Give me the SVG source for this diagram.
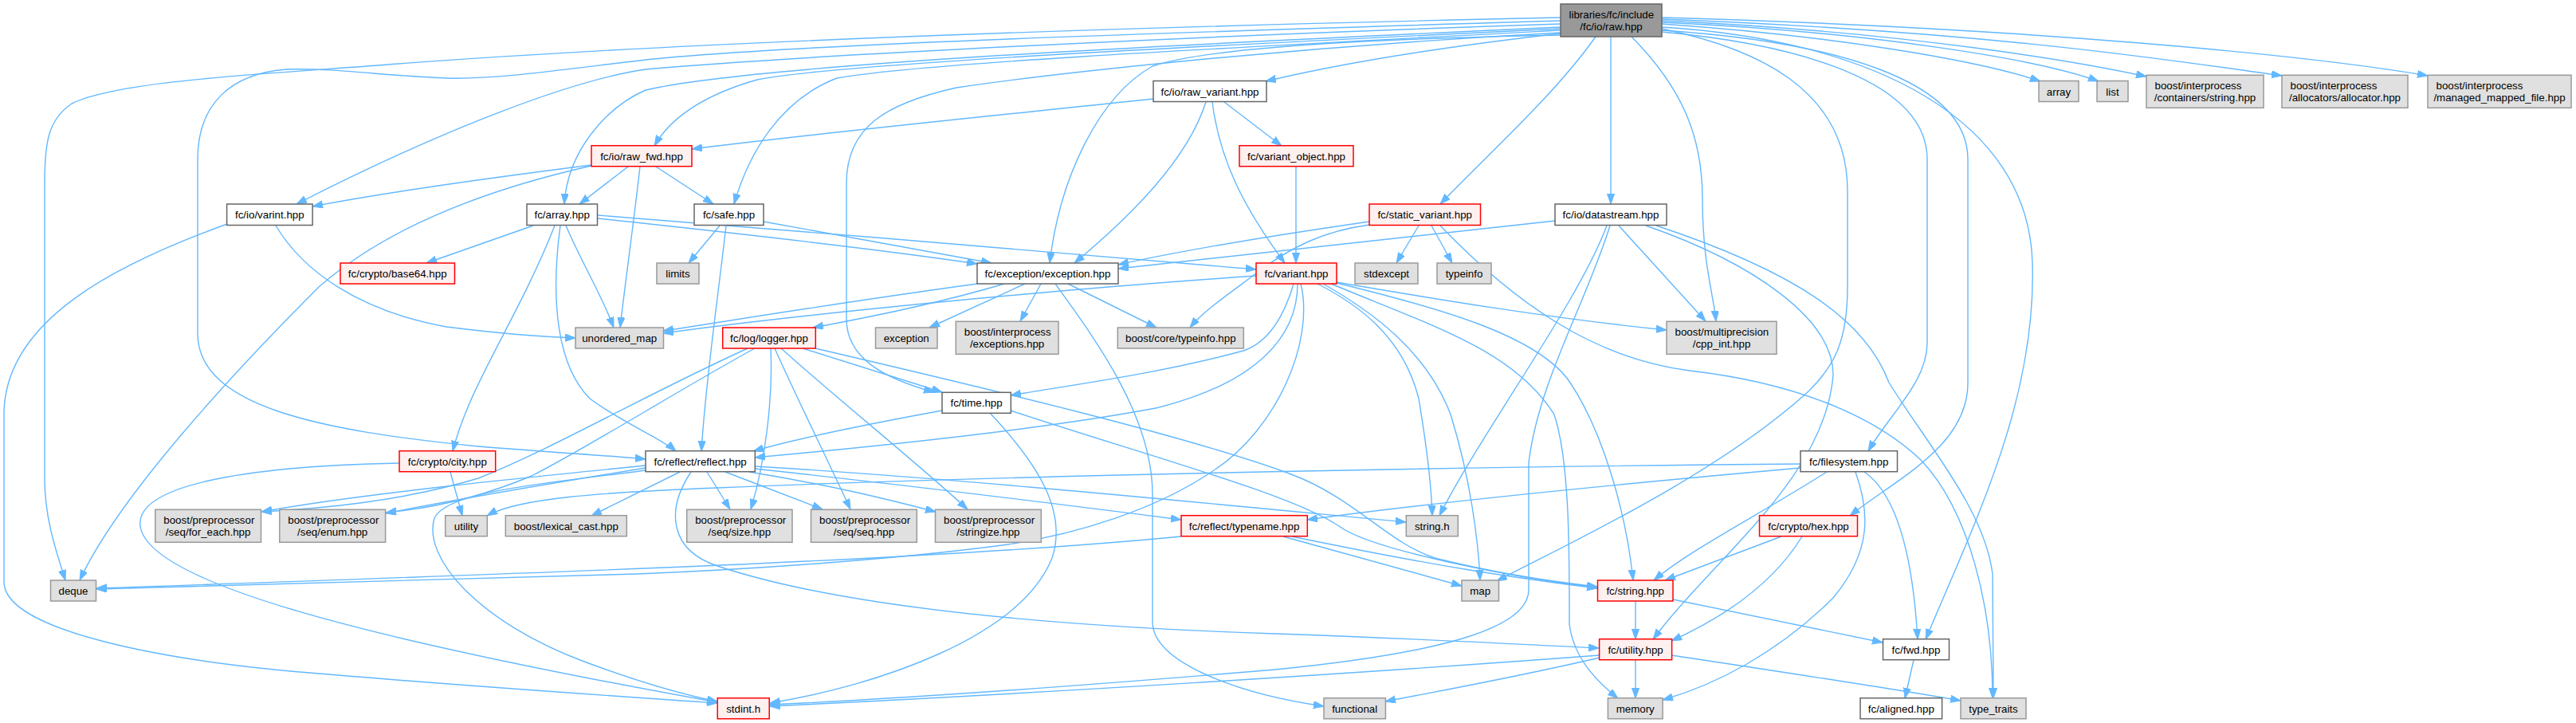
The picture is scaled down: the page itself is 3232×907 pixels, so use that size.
<svg xmlns="http://www.w3.org/2000/svg" width="3232" height="907" viewBox="0 0 3232 907">
<style>
.e{fill:none;stroke:#63b8ff;stroke-width:1.4}
.n rect{stroke-width:1.5}
.rt rect{fill:#999999;stroke:#666666}
.w rect{fill:#ffffff;stroke:#666666}
.r rect{fill:#fff0f0;stroke:#ff0000}
.x rect{fill:#e0e0e0;stroke:#999999}
text{font-family:"Liberation Sans",Arial,Helvetica,sans-serif;font-size:13.33px;fill:#000000}
.m{text-anchor:middle}
.s{text-anchor:start}
</style>
<defs>
<marker id="a" markerUnits="userSpaceOnUse" markerWidth="14" markerHeight="10" refX="13" refY="4.6" orient="auto">
<path d="M0,0 L13,4.6 L0,9.2 z" fill="#63b8ff" stroke="#63b8ff" stroke-width="1"/>
</marker>
</defs>
<rect width="3232" height="907" fill="#ffffff"/>
<g id="connectors" marker-end="url(#a)">
<path class="e" marker-end="url(#a)" d="M1958,22 C1500,32 900,50 500,80 C350,92 150,100 90,130 C60,150 56,180 56,230 L56,600 C56,650 70,690 82,728"/>
<path class="e" marker-end="url(#a)" d="M1958,26 C1500,40 1000,55 810,75 C700,88 620,100 560,98 C480,95 420,85 360,87 C290,92 248,130 248,200 L248,420 C250,510 400,540 600,560 C700,568 770,572 810,576"/>
<path class="e" marker-end="url(#a)" d="M1958,30 C1500,45 1000,70 810,87 C720,100 560,160 372,256"/>
<path class="e" marker-end="url(#a)" d="M1958,34 C1500,55 950,80 810,113 C760,135 712,190 708,256"/>
<path class="e" marker-end="url(#a)" d="M1958,36 C1500,58 1050,80 950,100 C880,120 840,150 821,183"/>
<path class="e" marker-end="url(#a)" d="M1958,38 C1500,62 1150,80 1050,98 C980,125 940,190 921,256"/>
<path class="e" marker-end="url(#a)" d="M1958,41 C1600,60 1300,95 1200,110 C1110,130 1062,160 1062,230 L1062,400 C1062,450 1110,475 1172,492"/>
<path class="e" marker-end="url(#a)" d="M1958,44 C1750,48 1520,58 1446,83 C1380,120 1330,220 1317,330"/>
<path class="e" marker-end="url(#a)" d="M1958,42 C1800,60 1680,80 1588,102"/>
<path class="e" marker-end="url(#a)" d="M2002,46 C1950,120 1860,200 1807,256"/>
<path class="e" marker-end="url(#a)" d="M2021,46 L2021,256"/>
<path class="e" marker-end="url(#a)" d="M2047,46 C2110,110 2136,170 2136,250 C2136,330 2150,370 2153,403"/>
<path class="e" marker-end="url(#a)" d="M2085,36 C2200,60 2318,110 2318,240 L2318,360 C2318,430 2300,460 2270,490 C2150,600 1950,690 1878,729"/>
<path class="e" marker-end="url(#a)" d="M2085,40 C2250,55 2418,100 2418,200 L2418,430 C2418,480 2370,520 2344,566"/>
<path class="e" marker-end="url(#a)" d="M2085,38 C2300,52 2469,100 2469,200 L2469,480 C2469,560 2380,600 2321,647"/>
<path class="e" marker-end="url(#a)" d="M2085,34 C2350,50 2545,150 2550,330 C2555,500 2480,650 2416,802"/>
<path class="e" marker-end="url(#a)" d="M2085,30 C2300,45 2480,75 2560,102"/>
<path class="e" marker-end="url(#a)" d="M2085,28 C2350,40 2560,75 2633,102"/>
<path class="e" marker-end="url(#a)" d="M2085,26 C2400,40 2620,80 2693,96"/>
<path class="e" marker-end="url(#a)" d="M2085,24 C2500,40 2720,75 2863,95"/>
<path class="e" marker-end="url(#a)" d="M2085,22 C2550,35 2900,70 3046,95"/>
<path class="e" marker-end="url(#a)" d="M1447,124 C1200,150 1000,170 868,187"/>
<path class="e" marker-end="url(#a)" d="M1513,128 C1490,200 1420,270 1348,330"/>
<path class="e" marker-end="url(#a)" d="M1536,128 L1608,183"/>
<path class="e" marker-end="url(#a)" d="M1521,128 C1530,200 1560,260 1612,330"/>
<path class="e" marker-end="url(#a)" d="M1626,209 L1626,330"/>
<path class="e" marker-end="url(#a)" d="M669,283 L535,330"/>
<path class="e" marker-end="url(#a)" d="M696,283 C650,400 590,480 568,566"/>
<path class="e" marker-end="url(#a)" d="M703,283 C690,380 700,460 740,500 C780,530 830,550 848,566"/>
<path class="e" marker-end="url(#a)" d="M710,283 C730,330 755,370 770,411"/>
<path class="e" marker-end="url(#a)" d="M750,274 C900,290 1100,312 1226,331"/>
<path class="e" marker-end="url(#a)" d="M750,270 C1000,290 1400,322 1576,338"/>
<path class="e" marker-end="url(#a)" d="M285,281 C150,330 5,400 5,520 L5,730 C5,790 200,830 413,846 C600,862 800,875 900,882"/>
<path class="e" marker-end="url(#a)" d="M346,283 C380,340 450,390 560,410 C640,420 690,423 722,424"/>
<path class="e" marker-end="url(#a)" d="M742,207 C600,225 480,242 392,259"/>
<path class="e" marker-end="url(#a)" d="M742,208 C600,240 480,290 400,360 C300,460 150,620 100,728"/>
<path class="e" marker-end="url(#a)" d="M788,209 L727,256"/>
<path class="e" marker-end="url(#a)" d="M803,209 C795,280 785,350 778,411"/>
<path class="e" marker-end="url(#a)" d="M823,209 L895,256"/>
<path class="e" marker-end="url(#a)" d="M958,278 C1080,300 1180,318 1244,330"/>
<path class="e" marker-end="url(#a)" d="M903,283 L864,330"/>
<path class="e" marker-end="url(#a)" d="M911,283 C900,380 885,480 880,566"/>
<path class="e" marker-end="url(#a)" d="M1718,278 C1600,295 1480,315 1403,332"/>
<path class="e" marker-end="url(#a)" d="M1718,282 C1660,290 1620,310 1580,340 C1540,370 1510,390 1493,411"/>
<path class="e" marker-end="url(#a)" d="M1780,283 L1752,330"/>
<path class="e" marker-end="url(#a)" d="M1796,283 L1822,330"/>
<path class="e" marker-end="url(#a)" d="M1807,283 C1900,380 2000,450 2120,465 C2250,480 2350,520 2410,577 C2470,640 2500,760 2500,876"/>
<path class="e" marker-end="url(#a)" d="M1951,277 C1750,300 1550,320 1403,337"/>
<path class="e" marker-end="url(#a)" d="M2031,283 L2140,403"/>
<path class="e" marker-end="url(#a)" d="M2016,283 C1980,380 1860,540 1806,647"/>
<path class="e" marker-end="url(#a)" d="M2020,283 C1990,380 1930,480 1918,580 L1918,740 C1918,790 1800,820 1600,840 C1300,865 1100,878 966,884"/>
<path class="e" marker-end="url(#a)" d="M2065,283 C2200,330 2300,400 2300,470 C2290,600 2150,700 2074,802"/>
<path class="e" marker-end="url(#a)" d="M2078,283 C2250,340 2340,400 2370,480 C2420,560 2490,640 2500,720 L2501,876"/>
<path class="e" marker-end="url(#a)" d="M1226,356 C1050,380 900,405 832,415"/>
<path class="e" marker-end="url(#a)" d="M1260,356 C1180,380 1080,400 1020,411"/>
<path class="e" marker-end="url(#a)" d="M1286,356 L1166,411"/>
<path class="e" marker-end="url(#a)" d="M1306,356 L1280,403"/>
<path class="e" marker-end="url(#a)" d="M1340,356 L1451,411"/>
<path class="e" marker-end="url(#a)" d="M1324,356 C1370,420 1446,520 1446,620 L1446,780 C1446,830 1550,870 1661,886"/>
<path class="e" marker-end="url(#a)" d="M1576,346 C1300,365 1000,395 832,418"/>
<path class="e" marker-end="url(#a)" d="M1677,354 C1800,375 1950,400 2091,414"/>
<path class="e" marker-end="url(#a)" d="M1623,356 C1610,400 1590,430 1560,440 C1450,470 1330,485 1268,496"/>
<path class="e" marker-end="url(#a)" d="M1628,356 C1628,420 1580,480 1450,512 C1300,540 1100,560 947,574"/>
<path class="e" marker-end="url(#a)" d="M1632,356 C1650,430 1600,540 1523,590 C1450,640 1350,670 1265,683 C1100,705 900,716 800,720 L121,739"/>
<path class="e" marker-end="url(#a)" d="M1653,356 C1700,380 1760,420 1780,500 C1790,560 1796,610 1797,647"/>
<path class="e" marker-end="url(#a)" d="M1660,356 C1720,390 1790,440 1820,520 C1845,600 1855,680 1857,728"/>
<path class="e" marker-end="url(#a)" d="M1670,356 C1800,410 1900,440 1950,520 C1970,580 1969,700 1969,783 C1975,830 2010,860 2030,876"/>
<path class="e" marker-end="url(#a)" d="M1677,355 C1800,385 1930,420 1970,480 C2010,540 2040,640 2049,728"/>
<path class="e" marker-end="url(#a)" d="M1182,515 C1100,530 1000,550 945,566"/>
<path class="e" marker-end="url(#a)" d="M1242,518 C1300,580 1340,640 1320,700 C1280,800 1100,860 966,882"/>
<path class="e" marker-end="url(#a)" d="M1268,515 C1450,575 1620,620 1680,660 C1720,690 1900,725 2004,737"/>
<path class="e" marker-end="url(#a)" d="M938,437 C800,500 700,560 600,600 C500,630 400,638 328,642"/>
<path class="e" marker-end="url(#a)" d="M947,437 C850,490 740,560 667,597 C600,625 540,638 484,643"/>
<path class="e" marker-end="url(#a)" d="M967,437 C970,500 960,580 942,639"/>
<path class="e" marker-end="url(#a)" d="M972,437 C1000,500 1040,580 1067,639"/>
<path class="e" marker-end="url(#a)" d="M980,437 C1050,500 1150,580 1214,639"/>
<path class="e" marker-end="url(#a)" d="M1007,437 L1182,492"/>
<path class="e" marker-end="url(#a)" d="M1023,437 C1250,490 1500,550 1620,595 C1700,625 1740,680 1800,700 C1880,720 1950,730 2004,736"/>
<path class="e" marker-end="url(#a)" d="M810,584 C650,600 450,620 328,642"/>
<path class="e" marker-end="url(#a)" d="M810,587 C700,605 580,625 484,644"/>
<path class="e" marker-end="url(#a)" d="M853,592 L742,647"/>
<path class="e" marker-end="url(#a)" d="M887,592 L916,639"/>
<path class="e" marker-end="url(#a)" d="M910,592 L1032,639"/>
<path class="e" marker-end="url(#a)" d="M940,592 C1050,610 1120,628 1174,642"/>
<path class="e" marker-end="url(#a)" d="M947,588 C1150,610 1350,635 1482,652"/>
<path class="e" marker-end="url(#a)" d="M947,585 C1200,600 1500,630 1764,655"/>
<path class="e" marker-end="url(#a)" d="M867,592 C835,640 840,690 900,710 C1050,760 1300,785 1600,795 C1800,802 1900,808 2006,813"/>
<path class="e" marker-end="url(#a)" d="M810,590 C700,605 560,615 545,650 C530,700 600,780 733,830 C800,855 860,872 900,880"/>
<path class="e" marker-end="url(#a)" d="M565,592 L580,647"/>
<path class="e" marker-end="url(#a)" d="M501,581 C300,585 170,610 176,660 C185,730 450,800 900,881"/>
<path class="e" marker-end="url(#a)" d="M2259,582 C1900,585 1300,595 900,612 C750,618 650,625 611,647"/>
<path class="e" marker-end="url(#a)" d="M2259,587 C2000,610 1800,630 1640,652"/>
<path class="e" marker-end="url(#a)" d="M2292,592 C2200,650 2120,690 2075,728"/>
<path class="e" marker-end="url(#a)" d="M2328,592 C2345,640 2350,690 2300,750 C2230,820 2150,860 2086,878"/>
<path class="e" marker-end="url(#a)" d="M2339,592 C2380,620 2400,700 2406,802"/>
<path class="e" marker-end="url(#a)" d="M1482,673 C1200,700 800,715 121,738"/>
<path class="e" marker-end="url(#a)" d="M1610,673 L1834,735"/>
<path class="e" marker-end="url(#a)" d="M1621,673 C1800,710 1900,725 2004,738"/>
<path class="e" marker-end="url(#a)" d="M2235,673 L2089,728"/>
<path class="e" marker-end="url(#a)" d="M2261,673 C2220,740 2150,780 2097,804"/>
<path class="e" marker-end="url(#a)" d="M2052,754 L2052,802"/>
<path class="e" marker-end="url(#a)" d="M2099,752 L2362,806"/>
<path class="e" marker-end="url(#a)" d="M2052,828 L2052,876"/>
<path class="e" marker-end="url(#a)" d="M2007,825 C1900,850 1800,868 1738,880"/>
<path class="e" marker-end="url(#a)" d="M2007,822 C1700,845 1300,870 966,886"/>
<path class="e" marker-end="url(#a)" d="M2097,822 C2250,845 2380,865 2460,879"/>
<path class="e" marker-end="url(#a)" d="M2401,828 L2390,876"/>
</g>
<g id="n_root" class="n rt"><rect x="1958" y="5" width="127" height="41"/><text class="s" x="1968.5" y="22.8">libraries/fc/include</text><text class="m" x="2021.5" y="37.5">/fc/io/raw.hpp</text></g>
<g id="n_raw_variant" class="n w"><rect x="1447" y="101.5" width="142" height="26"/><text class="m" x="1518" y="119.5">fc/io/raw_variant.hpp</text></g>
<g id="n_array" class="n x"><rect x="2558" y="101.5" width="50" height="26"/><text class="m" x="2583" y="119.5">array</text></g>
<g id="n_list" class="n x"><rect x="2631" y="101.5" width="39" height="26"/><text class="m" x="2650.5" y="119.5">list</text></g>
<g id="n_ip_string" class="n x"><rect x="2693" y="94.3" width="147" height="41"/><text class="s" x="2703.5" y="112.1">boost/interprocess</text><text class="m" x="2766.5" y="126.8">/containers/string.hpp</text></g>
<g id="n_ip_alloc" class="n x"><rect x="2863" y="94.3" width="158" height="41"/><text class="s" x="2873.5" y="112.1">boost/interprocess</text><text class="m" x="2942" y="126.8">/allocators/allocator.hpp</text></g>
<g id="n_ip_mmf" class="n x"><rect x="3046" y="94.3" width="180" height="41"/><text class="s" x="3056.5" y="112.1">boost/interprocess</text><text class="m" x="3136" y="126.8">/managed_mapped_file.hpp</text></g>
<g id="n_raw_fwd" class="n r"><rect x="742" y="182.7" width="126" height="26"/><text class="m" x="805" y="200.7">fc/io/raw_fwd.hpp</text></g>
<g id="n_variant_object" class="n r"><rect x="1555" y="182.7" width="143" height="26"/><text class="m" x="1626.5" y="200.7">fc/variant_object.hpp</text></g>
<g id="n_varint" class="n w"><rect x="284.6" y="256" width="107.5" height="26.5"/><text class="m" x="338.3" y="274.2">fc/io/varint.hpp</text></g>
<g id="n_fc_array" class="n w"><rect x="661" y="256" width="88.5" height="26.5"/><text class="m" x="705.2" y="274.2">fc/array.hpp</text></g>
<g id="n_safe" class="n w"><rect x="871" y="256" width="87" height="26.5"/><text class="m" x="914.5" y="274.2">fc/safe.hpp</text></g>
<g id="n_static_variant" class="n r"><rect x="1718" y="256" width="139.5" height="26.5"/><text class="m" x="1787.7" y="274.2">fc/static_variant.hpp</text></g>
<g id="n_datastream" class="n w"><rect x="1951" y="256" width="140" height="26.5"/><text class="m" x="2021" y="274.2">fc/io/datastream.hpp</text></g>
<g id="n_base64" class="n r"><rect x="427" y="330" width="143.5" height="26"/><text class="m" x="498.7" y="348">fc/crypto/base64.hpp</text></g>
<g id="n_limits" class="n x"><rect x="824" y="330" width="53" height="26"/><text class="m" x="850.5" y="348">limits</text></g>
<g id="n_exception_hpp" class="n w"><rect x="1226" y="330" width="177" height="26"/><text class="m" x="1314.5" y="348">fc/exception/exception.hpp</text></g>
<g id="n_variant" class="n r"><rect x="1576" y="330" width="101" height="26"/><text class="m" x="1626.5" y="348">fc/variant.hpp</text></g>
<g id="n_stdexcept" class="n x"><rect x="1700" y="330" width="79" height="26"/><text class="m" x="1739.5" y="348">stdexcept</text></g>
<g id="n_typeinfo" class="n x"><rect x="1803" y="330" width="68" height="26"/><text class="m" x="1837" y="348">typeinfo</text></g>
<g id="n_unordered_map" class="n x"><rect x="722" y="411" width="110.5" height="26"/><text class="m" x="777.2" y="429">unordered_map</text></g>
<g id="n_logger" class="n r"><rect x="906.7" y="411" width="116.6" height="26"/><text class="m" x="965" y="429">fc/log/logger.hpp</text></g>
<g id="n_exception" class="n x"><rect x="1098.5" y="411" width="77.5" height="26"/><text class="m" x="1137.2" y="429">exception</text></g>
<g id="n_ip_exceptions" class="n x"><rect x="1199.3" y="403.3" width="128.7" height="41"/><text class="s" x="1209.8" y="421.1">boost/interprocess</text><text class="m" x="1263.6" y="435.8">/exceptions.hpp</text></g>
<g id="n_core_typeinfo" class="n x"><rect x="1402.3" y="411" width="158" height="26"/><text class="m" x="1481.3" y="429">boost/core/typeinfo.hpp</text></g>
<g id="n_multiprecision" class="n x"><rect x="2091" y="403.3" width="138" height="41"/><text class="s" x="2101.5" y="421.1">boost/multiprecision</text><text class="m" x="2160" y="435.8">/cpp_int.hpp</text></g>
<g id="n_time" class="n w"><rect x="1182" y="492.3" width="86.3" height="26"/><text class="m" x="1225.1" y="510.3">fc/time.hpp</text></g>
<g id="n_city" class="n r"><rect x="501" y="565.7" width="120.7" height="26"/><text class="m" x="561.3" y="583.7">fc/crypto/city.hpp</text></g>
<g id="n_reflect" class="n w"><rect x="810" y="565.7" width="137.3" height="26"/><text class="m" x="878.6" y="583.7">fc/reflect/reflect.hpp</text></g>
<g id="n_filesystem" class="n w"><rect x="2259" y="565.7" width="121.5" height="26"/><text class="m" x="2319.7" y="583.7">fc/filesystem.hpp</text></g>
<g id="n_for_each" class="n x"><rect x="194.8" y="639.3" width="132.7" height="41"/><text class="s" x="205.3" y="657.1">boost/preprocessor</text><text class="m" x="261.1" y="671.8">/seq/for_each.hpp</text></g>
<g id="n_enum" class="n x"><rect x="350.8" y="639.3" width="132.8" height="41"/><text class="s" x="361.3" y="657.1">boost/preprocessor</text><text class="m" x="417.2" y="671.8">/seq/enum.hpp</text></g>
<g id="n_utility" class="n x"><rect x="558.7" y="646.7" width="52.6" height="26"/><text class="m" x="585" y="664.7">utility</text></g>
<g id="n_lexical_cast" class="n x"><rect x="634.3" y="646.7" width="152" height="26"/><text class="m" x="710.3" y="664.7">boost/lexical_cast.hpp</text></g>
<g id="n_seq_size" class="n x"><rect x="861.7" y="639.3" width="132.3" height="41"/><text class="s" x="872.2" y="657.1">boost/preprocessor</text><text class="m" x="927.8" y="671.8">/seq/size.hpp</text></g>
<g id="n_seq_seq" class="n x"><rect x="1017.5" y="639.3" width="132.8" height="41"/><text class="s" x="1028" y="657.1">boost/preprocessor</text><text class="m" x="1083.9" y="671.8">/seq/seq.hpp</text></g>
<g id="n_stringize" class="n x"><rect x="1173.5" y="639.3" width="132.8" height="41"/><text class="s" x="1184" y="657.1">boost/preprocessor</text><text class="m" x="1239.9" y="671.8">/stringize.hpp</text></g>
<g id="n_typename" class="n r"><rect x="1482" y="646.7" width="158.3" height="26"/><text class="m" x="1561.1" y="664.7">fc/reflect/typename.hpp</text></g>
<g id="n_string_h" class="n x"><rect x="1764.3" y="646.7" width="65" height="26"/><text class="m" x="1796.8" y="664.7">string.h</text></g>
<g id="n_hex" class="n r"><rect x="2207.5" y="646.7" width="123" height="26"/><text class="m" x="2269" y="664.7">fc/crypto/hex.hpp</text></g>
<g id="n_deque" class="n x"><rect x="63.5" y="728" width="57" height="26"/><text class="m" x="92" y="746">deque</text></g>
<g id="n_map" class="n x"><rect x="1834" y="728" width="46.5" height="26"/><text class="m" x="1857.2" y="746">map</text></g>
<g id="n_fc_string" class="n r"><rect x="2004.5" y="728" width="94.5" height="26"/><text class="m" x="2051.7" y="746">fc/string.hpp</text></g>
<g id="n_fc_utility" class="n r"><rect x="2006.6" y="801.7" width="91" height="26"/><text class="m" x="2052.1" y="819.7">fc/utility.hpp</text></g>
<g id="n_fwd" class="n w"><rect x="2362.5" y="801.7" width="83" height="26"/><text class="m" x="2404" y="819.7">fc/fwd.hpp</text></g>
<g id="n_stdint" class="n r"><rect x="900.2" y="875.7" width="65" height="26"/><text class="m" x="932.7" y="893.7">stdint.h</text></g>
<g id="n_functional" class="n x"><rect x="1661" y="875.7" width="77.4" height="26"/><text class="m" x="1699.7" y="893.7">functional</text></g>
<g id="n_memory" class="n x"><rect x="2017.4" y="875.7" width="68.7" height="26"/><text class="m" x="2051.7" y="893.7">memory</text></g>
<g id="n_aligned" class="n w"><rect x="2334" y="875.7" width="102.6" height="26"/><text class="m" x="2385.3" y="893.7">fc/aligned.hpp</text></g>
<g id="n_type_traits" class="n x"><rect x="2460" y="875.7" width="82" height="26"/><text class="m" x="2501" y="893.7">type_traits</text></g>
</svg>
